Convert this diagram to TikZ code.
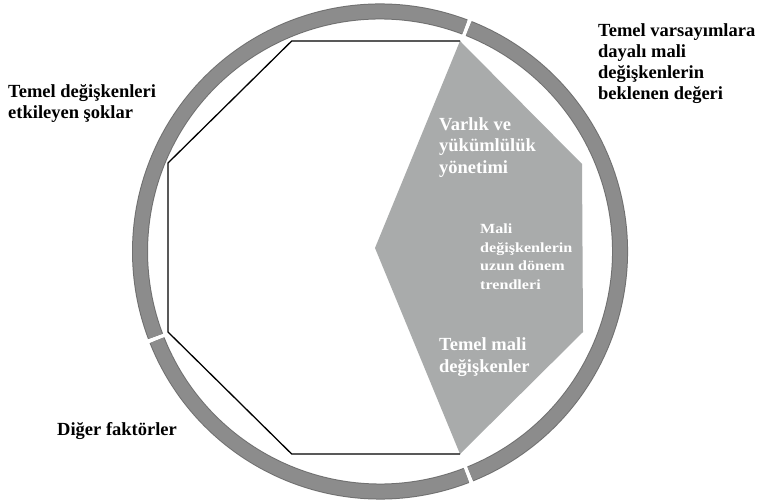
\documentclass[tikz,border=0pt]{standalone}
\usepackage{fontspec}
\setmainfont{Liberation Serif}[BoldFont={Liberation Serif Bold}]
\newfontfamily\widefont{Liberation Serif Bold}[FakeStretch=1.15]
\usepackage{tikz}
\usetikzlibrary{positioning}
\definecolor{ringgray}{RGB}{140,140,140}
\definecolor{ringedge}{RGB}{112,112,112}
\definecolor{fillgray}{RGB}{169,171,171}
\tikzset{
    %Define style for the labels outside the ring
    outlabel/.style={
           anchor=north west,
           inner sep=0pt,
           align=left,
           font=\bfseries\fontsize{18.5}{21}\selectfont,
           text=black},
    %Define style for the labels in the grey part
    inlabel/.style={
           anchor=north west,
           inner sep=0pt,
           align=left,
           font=\bfseries\fontsize{18.5}{21.5}\selectfont,
           text=white},
    smalllabel/.style={
           inlabel,
           font=\widefont\fontsize{14}{18.7}\selectfont},
    % Define ring styles
    ringout/.style={
           draw=ringedge,
           line width=16pt},
    ringin/.style={
           draw=ringgray,
           line width=14pt}
}

\begin{document}
\begin{tikzpicture}[x=1pt,y=1pt]
\fill[white] (0,0) rectangle (757,503);
\useasboundingbox (0,0) rectangle (757,503);
\coordinate (c) at (380,251.5);
% ring in three parts
\foreach \a/\b in {69.3/200.7, 201.7/291.1, 292.1/428.3}{
    \draw[ringout] ([shift={(\a:240pt)}]c) arc[start angle=\a, end angle=\b, radius=240pt];
    \draw[ringin] ([shift={(\a:240pt)}]c) arc[start angle=\a, end angle=\b, radius=240pt];
}
% octagon
\coordinate (o1) at (291.7,462);
\coordinate (o2) at (460,462);
\coordinate (o3) at (582,339);
\coordinate (o4) at (583,171);
\coordinate (o5) at (460,49);
\coordinate (o6) at (291.7,49);
\coordinate (o7) at (168,171);
\coordinate (o8) at (168,340);
\coordinate (m) at (375,255);
\fill[fillgray] (o2) -- (o3) -- (o4) -- (o5) -- (m) -- cycle;
\draw[black, line width=1.3pt, line join=miter] (o2) -- (o1) -- (o8) -- (o7) -- (o6) -- (o5);
% labels
\node[outlabel] (varsayim) at (598,479.6) {Temel varsayımlara\\dayalı mali\\değişkenlerin\\beklenen değeri};
\node[outlabel] (soklar) at (8,419) {Temel değişkenleri\\etkileyen şoklar};
\node[outlabel] (diger) at (57,80.6) {Diğer faktörler};
\node[inlabel] (varlik) at (439,386) {Varlık ve\\yükümlülük\\yönetimi};
\node[smalllabel] (trend) at (480,279.5) {Mali\\değişkenlerin\\uzun dönem\\trendleri};
\node[inlabel] (temelmali) at (439,165.5) {Temel mali\\değişkenler};
\end{tikzpicture}
\end{document}
